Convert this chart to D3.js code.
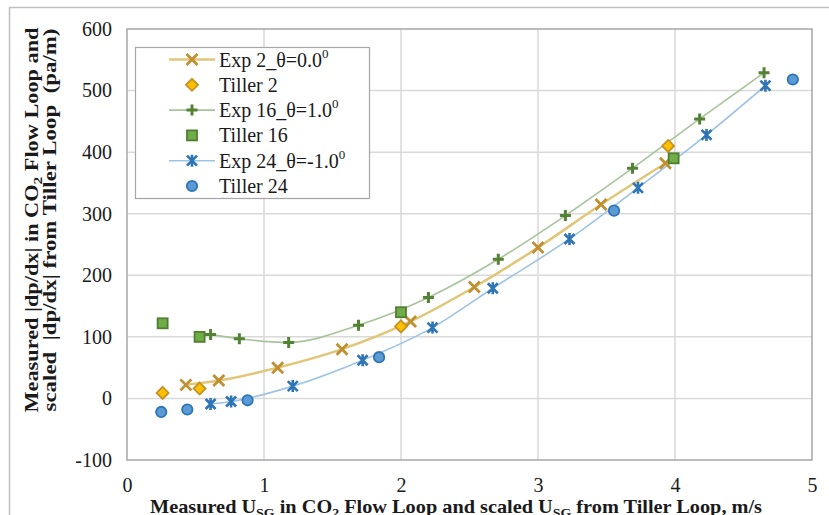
<!DOCTYPE html>
<html>
<head>
<meta charset="utf-8">
<script src="https://cdn.jsdelivr.net/npm/d3@7"></script>
<style>
  body { margin: 0; background: #fff; }
  svg text { font-family: "Liberation Serif", "Times New Roman", serif; fill: #1a1a1a; }
</style>
</head>
<body>
<div id="chart"></div>
<script>
// data
const exp2X = [0.43, 0.67, 1.10, 1.57, 2.07, 2.535, 3.00, 3.46, 3.93];
const exp2Y = [22, 29, 50, 80, 125, 181, 245, 315, 382];
const tiller2X = [0.26, 0.53, 2.0, 3.95];
const tiller2Y = [9, 16, 117, 410];
const exp16X = [0.61, 0.82, 1.18, 1.69, 2.20, 2.71, 3.20, 3.69, 4.18, 4.65];
const exp16Y = [104, 97, 91, 119, 164, 226, 297, 374, 454, 529];
const tiller16X = [0.26, 0.53, 2.0, 3.99];
const tiller16Y = [122, 100, 140, 390];
const exp24X = [0.61, 0.76, 1.21, 1.72, 2.23, 2.67, 3.23, 3.73, 4.23, 4.66];
const exp24Y = [-9, -5, 20, 62, 115, 179, 259, 342, 428, 508];
const tiller24X = [0.25, 0.44, 0.88, 1.84, 3.555, 4.86];
const tiller24Y = [-22, -18, -3, 67, 305, 518];

const xTicks = [0, 1, 2, 3, 4, 5];
const yTicks = [-100, 0, 100, 200, 300, 400, 500, 600];

(function () {
    const W = 829, H = 515;
    const plot = { left: 127, right: 812, top: 29, bottom: 460 };
    const serif = '"Liberation Serif", "Times New Roman", serif';

    const svg = d3.select("#chart").append("svg")
        .attr("width", W)
        .attr("height", H);

    // outer chart frame
    svg.append("rect")
        .attr("x", 9.5).attr("y", 7.5)
        .attr("width", 840).attr("height", 540)
        .attr("fill", "#fff")
        .attr("stroke", "#bfbfbf")
        .attr("stroke-width", 1.5);

    const x = d3.scaleLinear().domain([0, 5]).range([plot.left, plot.right]);
    const y = d3.scaleLinear().domain([-100, 600]).range([plot.bottom, plot.top]);

    // gridlines
    svg.append("g")
        .selectAll("line")
        .data(yTicks.slice(1, -1))
        .join("line")
        .attr("x1", plot.left).attr("x2", plot.right)
        .attr("y1", d => y(d)).attr("y2", d => y(d))
        .attr("stroke", "#d9d9d9").attr("stroke-width", 1.5);
    svg.append("g")
        .selectAll("line")
        .data(xTicks.slice(1, -1))
        .join("line")
        .attr("y1", plot.top).attr("y2", plot.bottom)
        .attr("x1", d => x(d)).attr("x2", d => x(d))
        .attr("stroke", "#d9d9d9").attr("stroke-width", 1.5);

    // plot area border
    svg.append("rect")
        .attr("x", plot.left).attr("y", plot.top)
        .attr("width", plot.right - plot.left)
        .attr("height", plot.bottom - plot.top)
        .attr("fill", "none")
        .attr("stroke", "#a6a6a6")
        .attr("stroke-width", 1.5);

    // axes (labels only, no tick marks); plain hyphen for negatives
    const fmt = d => (d < 0 ? "-" + Math.abs(d) : String(d));
    const xAxis = svg.append("g")
        .attr("transform", `translate(0,${plot.bottom})`)
        .call(d3.axisBottom(x).tickValues(xTicks).tickSize(0).tickPadding(18).tickFormat(fmt));
    const yAxis = svg.append("g")
        .attr("transform", `translate(${plot.left},0)`)
        .call(d3.axisLeft(y).tickValues(yTicks).tickSize(0).tickPadding(15).tickFormat(fmt));
    [xAxis, yAxis].forEach(g => {
        g.attr("font-family", serif);
        g.select(".domain").remove();
        g.selectAll("text")
            .style("font-family", serif)
            .attr("font-size", 20)
            .attr("fill", "#1a1a1a");
    });

    // x axis title
    const xt = svg.append("text")
        .attr("x", 150).attr("y", 513)
        .attr("font-size", 19)
        .attr("font-weight", "bold")
        .attr("textLength", 612)
        .attr("lengthAdjust", "spacingAndGlyphs");
    xt.append("tspan").text("Measured U");
    xt.append("tspan").attr("font-size", 13).attr("dy", 4).text("SG");
    xt.append("tspan").attr("dy", -4).text(" in CO");
    xt.append("tspan").attr("font-size", 13).attr("dy", 4).text("2");
    xt.append("tspan").attr("dy", -4).text(" Flow Loop and scaled U");
    xt.append("tspan").attr("font-size", 13).attr("dy", 4).text("SG");
    xt.append("tspan").attr("dy", -4).text(" from Tiller Loop, m/s");

    // y axis title (two lines)
    const yt1 = svg.append("text")
        .attr("transform", "translate(38,220) rotate(-90)")
        .attr("text-anchor", "middle")
        .attr("font-size", 19)
        .attr("font-weight", "bold")
        .attr("textLength", 385)
        .attr("lengthAdjust", "spacingAndGlyphs");
    yt1.append("tspan").text("Measured |dp/dx| in CO");
    yt1.append("tspan").attr("font-size", 13).attr("dy", 4).text("2");
    yt1.append("tspan").attr("dy", -4).text(" Flow Loop and");
    svg.append("text")
        .attr("transform", "translate(56,220) rotate(-90)")
        .attr("text-anchor", "middle")
        .attr("font-size", 19)
        .attr("font-weight", "bold")
        .attr("textLength", 383)
        .attr("lengthAdjust", "spacingAndGlyphs")
        .style("white-space", "pre")
        .text("scaled  |dp/dx| from Tiller Loop  (pa/m)");

    // marker shapes
    const cross = s => `M${-s},${-s}L${s},${s}M${-s},${s}L${s},${-s}`;
    const plus = s => `M${-s},0L${s},0M0,${-s}L0,${s}`;
    const star = s => `M${-s},${-s}L${s},${s}M${-s},${s}L${s},${-s}M0,${-s * 1.2}L0,${s * 1.2}`;

    const series = [
        { name: "Exp 2_θ=0.0", sup: "0", xs: exp2X, ys: exp2Y, line: "#e2c677", lw: 2.5, marker: "cross", color: "#bf8f30" },
        { name: "Tiller 2", xs: tiller2X, ys: tiller2Y, marker: "diamond", fill: "#ffc000", color: "#c49222" },
        { name: "Exp 16_θ=1.0", sup: "0", xs: exp16X, ys: exp16Y, line: "#a9c49b", lw: 1.6, marker: "plus", color: "#548235" },
        { name: "Tiller 16", xs: tiller16X, ys: tiller16Y, marker: "square", fill: "#70ad47", color: "#507e32" },
        { name: "Exp 24_θ=-1.0", sup: "0", xs: exp24X, ys: exp24Y, line: "#9dc3e6", lw: 1.6, marker: "star", color: "#2e75b6" },
        { name: "Tiller 24", xs: tiller24X, ys: tiller24Y, marker: "circle", fill: "#5b9bd5", color: "#2e75b6" }
    ];

    function drawMarker(g, s) {
        if (s.marker === "cross") {
            g.append("path").attr("d", cross(5.5)).attr("stroke", s.color).attr("stroke-width", 2.8).attr("fill", "none");
        } else if (s.marker === "plus") {
            g.append("path").attr("d", plus(5.5)).attr("stroke", s.color).attr("stroke-width", 3).attr("fill", "none");
        } else if (s.marker === "star") {
            g.append("path").attr("d", star(5)).attr("stroke", s.color).attr("stroke-width", 2.6).attr("fill", "none");
        } else if (s.marker === "diamond") {
            g.append("path").attr("d", "M0,-6L6,0L0,6L-6,0Z").attr("fill", s.fill).attr("stroke", s.color).attr("stroke-width", 1.8);
        } else if (s.marker === "square") {
            g.append("rect").attr("x", -5).attr("y", -5).attr("width", 10).attr("height", 10)
                .attr("fill", s.fill).attr("stroke", s.color).attr("stroke-width", 1.8);
        } else {
            g.append("circle").attr("r", 5.2).attr("fill", s.fill).attr("stroke", s.color).attr("stroke-width", 1.8);
        }
    }

    // smoothed lines, without overshoot between points
    const line = d3.line()
        .x(d => x(d[0]))
        .y(d => y(d[1]))
        .curve(d3.curveMonotoneX);

    // lines first, markers on top
    series.filter(s => s.line).forEach(s => {
        svg.append("path")
            .datum(d3.zip(s.xs, s.ys))
            .attr("d", line)
            .attr("fill", "none")
            .attr("stroke", s.line)
            .attr("stroke-width", s.lw);
    });
    series.forEach(s => {
        svg.append("g")
            .selectAll("g")
            .data(d3.zip(s.xs, s.ys))
            .join("g")
            .attr("transform", d => `translate(${x(d[0])},${y(d[1])})`)
            .each(function () { drawMarker(d3.select(this), s); });
    });

    // legend
    const legend = svg.append("g").attr("transform", "translate(135,47)");
    legend.append("rect")
        .attr("x", 0.5).attr("y", 0.5)
        .attr("width", 234).attr("height", 151)
        .attr("fill", "#fff")
        .attr("stroke", "#a6a6a6")
        .attr("stroke-width", 1.2);

    const items = legend.selectAll(".item")
        .data(series)
        .join("g")
        .attr("class", "item")
        .attr("transform", (d, i) => `translate(0,${12.5 + i * 25.3})`);

    items.filter(d => d.line).append("line")
        .attr("x1", 34).attr("x2", 80)
        .attr("stroke", d => d.line)
        .attr("stroke-width", d => d.lw);
    items.append("g")
        .attr("transform", "translate(57,0)")
        .each(function (d) { drawMarker(d3.select(this), d); });

    const labels = items.append("text")
        .attr("x", 84).attr("y", 7)
        .style("font-family", serif)
        .attr("font-size", 20);
    labels.append("tspan").text(d => d.name);
    labels.filter(d => d.sup).append("tspan")
        .attr("font-size", 13).attr("dy", -9).text(d => d.sup);
})();
</script>
</body>
</html>
